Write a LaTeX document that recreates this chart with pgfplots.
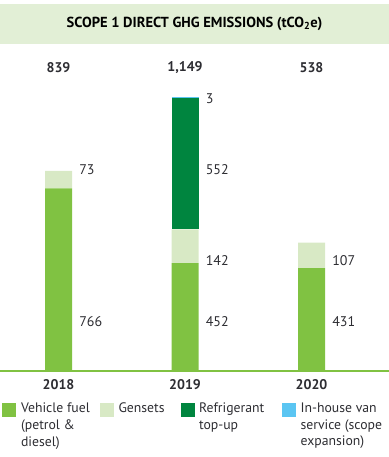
\documentclass[border=0pt]{standalone}
\usepackage{pgfplots}
\pgfplotsset{compat=1.18}
\usepackage{fontspec}
\setmainfont{PT Sans}
\definecolor{vf}{RGB}{128,194,66}
\definecolor{gs}{RGB}{216,233,197}
\definecolor{rf}{RGB}{0,133,63}
\definecolor{van}{RGB}{91,197,242}
\definecolor{band}{RGB}{226,239,214}
\definecolor{txt}{RGB}{45,45,50}
\tikzset{seglab/.style={font=\fontsize{10.5}{12}\selectfont, text=txt, inner sep=0pt, anchor=west},
  totlab/.style={font=\bfseries\fontsize{10.5}{12}\selectfont, text=txt, inner sep=0pt, anchor=center}}
\begin{document}
\begin{tikzpicture}
\path[use as bounding box] (0,0) rectangle (291.75pt,342.75pt);
\fill[band] (0,309.75pt) rectangle (291.75pt,339.75pt);
\node[font=\bfseries\fontsize{10.9}{12}\selectfont, text=black] at (145.9pt,324.75pt) {SCOPE 1 DIRECT GHG EMISSIONS (tCO\textsubscript{2}e)};
\begin{axis}[
  at={(0pt,64.5pt)}, anchor=south west,
  scale only axis, width=291.75pt, height=244.5pt,
  xmin=-0.4625, xmax=2.6126, ymin=0, ymax=1367,
  clip=false,
  axis x line*=bottom, axis y line=none,
  x axis line style={draw=vf, line width=1pt},
  ybar stacked, bar width=20.25pt,
  xtick={0,1,2}, xticklabels={2018,2019,2020},
  major tick length=0pt,
  xticklabel style={font=\bfseries\fontsize{10.5}{12}\selectfont, text=txt, inner sep=0pt, yshift=-6.4pt},
  legend image code/.code={\fill[#1] (0pt,-10.5pt) rectangle (10.5pt,0pt);},
  legend columns=4,
  legend style={at={(0.0064,-0.0982)}, anchor=north west, draw=none, fill=none,
    inner sep=0pt, outer sep=0pt, row sep=0pt,
    nodes={inner sep=0pt},
    font=\fontsize{10.3}{12.5}\selectfont, text=txt,
    cells={anchor=north west},
    /tikz/every odd column/.append style={column sep=3.4pt}},
]
\addplot[fill=vf, draw=none] coordinates {(0,766) (1,452) (2,431)};
\addlegendentry{\parbox[t]{59.25pt}{Vehicle fuel\\(petrol \&\\diesel)}}
\addplot[fill=gs, draw=none] coordinates {(0,73) (1,142) (2,107)};
\addlegendentry{\parbox[t]{46.5pt}{Gensets}}
\addplot[fill=rf, draw=none] coordinates {(0,0) (1,552) (2,0)};
\addlegendentry{\parbox[t]{62.25pt}{Refrigerant\\top-up}}
\addplot[fill=van, draw=none] coordinates {(0,0) (1,3) (2,0)};
\addlegendentry{\parbox[t]{64.5pt}{In-house van\\service (scope\\expansion)}}
\node[seglab] at (axis cs:0.162,205.5) {766};
\node[seglab] at (axis cs:0.162,843) {73};
\node[seglab] at (axis cs:1.162,205.5) {452};
\node[seglab] at (axis cs:1.162,465) {142};
\node[seglab] at (axis cs:1.162,843) {552};
\node[seglab] at (axis cs:1.162,1140.5) {3};
\node[seglab] at (axis cs:2.162,205.5) {431};
\node[seglab] at (axis cs:2.162,465) {107};
\node[totlab] at (axis cs:0,1270.4) {839};
\node[totlab] at (axis cs:1,1270.4) {1,149};
\node[totlab] at (axis cs:2,1270.4) {538};
\end{axis}
\end{tikzpicture}
\end{document}
